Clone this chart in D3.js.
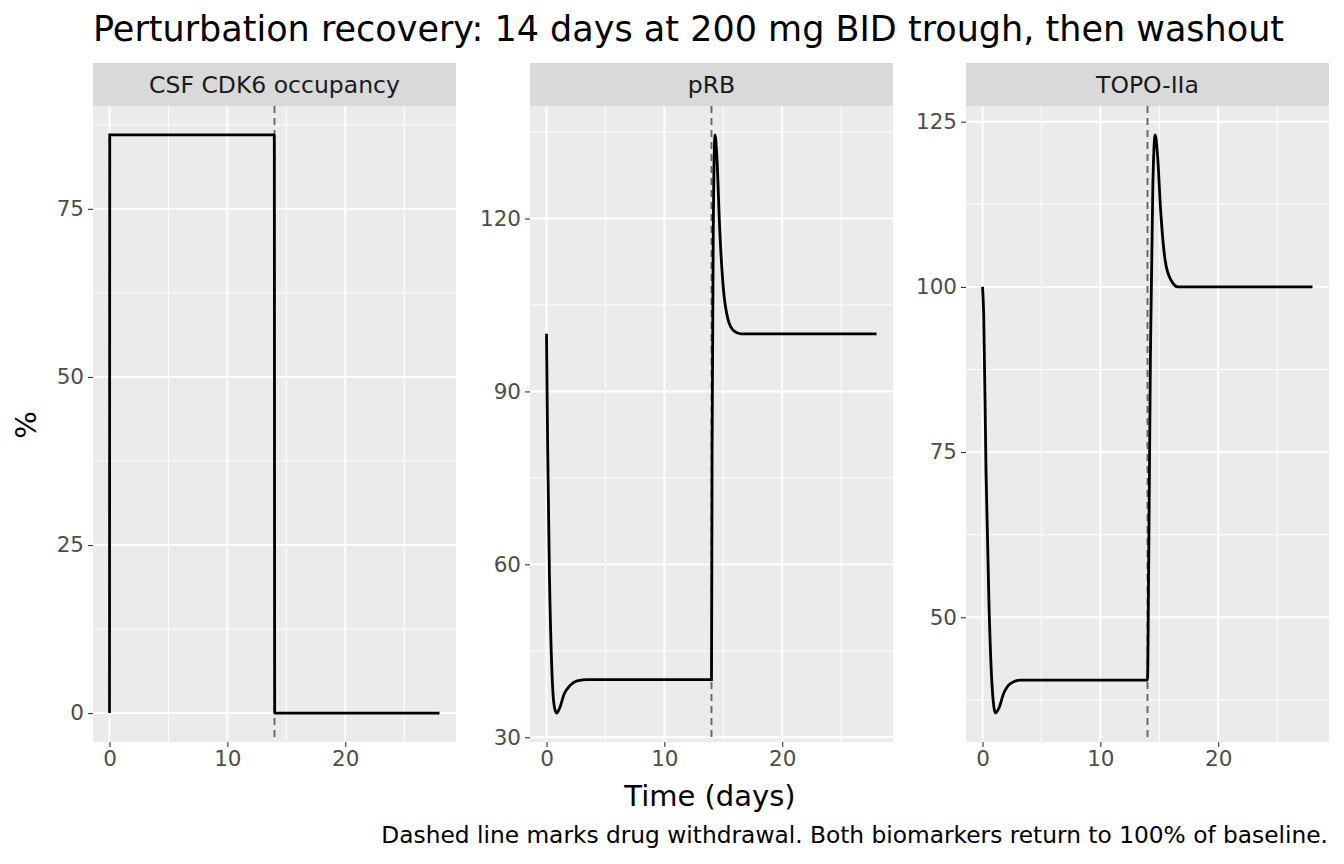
<!DOCTYPE html>
<html><head><meta charset="utf-8">
<script src="https://cdn.jsdelivr.net/npm/d3@7"></script>
<style>body{margin:0;background:#fff;font-family:"DejaVu Sans",sans-serif;}</style>
</head><body>
<script>
// panel names and y breaks
const panels = ["CSF CDK6 occupancy", "pRB", "TOPO-IIa"];
const yBreaks = [[0, 25, 50, 75], [30, 60, 90, 120], [50, 75, 100, 125]];
const xBreaks = [0, 10, 20];
const withdrawalDay = 14;

// series: [day, %]
const occupancy = [[0,0],[0.02,86],[13.98,86],[14.02,0],[28,0]];
const pRB = [[0,100],[0.1,80],[0.25,58],[0.45,42],[0.65,35.5],[0.85,34.2],[1.1,35],[1.5,37.5],[2,39],[2.6,39.8],[3.5,40],[14,40],[14.05,80],[14.15,118],[14.3,134.5],[14.45,131],[14.7,118],[15,108],[15.4,102.5],[15.9,100.5],[16.5,100],[28,100]];
const topo = [[0,100],[0.1,96],[0.3,72],[0.55,52],[0.8,40],[1.1,35.5],[1.4,36.3],[1.8,38.5],[2.4,40],[3.2,40.5],[14,40.5],[14.1,58],[14.25,90],[14.45,115],[14.65,123],[14.85,120],[15.1,112],[15.5,104],[16,101],[16.6,100],[28,100]];
const series = [occupancy, pRB, topo];

const svg = d3.select("body").append("svg").attr("width", 1344).attr("height", 864);

const panelX = [93, 530, 966], panelW = 363;
const stripTop = 63, stripH = 43, plotTop = 106, plotBot = 742;

svg.append("text").attr("x", 93).attr("y", 41).attr("font-size", 35).text("Perturbation recovery: 14 days at 200 mg BID trough, then washout");

panels.forEach((name, i) => {
  const data = series[i];
  const g = svg.append("g").attr("transform", `translate(${panelX[i]},0)`);
  const x = d3.scaleLinear().domain([-1.4, 29.4]).range([0, panelW]);
  const ext = d3.extent(data, d => d[1]);
  const pad = (ext[1] - ext[0]) * 0.05;
  const y = d3.scaleLinear().domain([ext[0] - pad, ext[1] + pad]).range([plotBot, plotTop]);

  g.append("rect").attr("y", stripTop).attr("width", panelW).attr("height", stripH).attr("fill", "#d9d9d9");
  g.append("text").attr("x", panelW / 2).attr("y", stripTop + stripH / 2 + 8).attr("text-anchor", "middle")
    .attr("font-size", 23.5).attr("fill", "#1a1a1a").text(name);
  g.append("rect").attr("y", plotTop).attr("width", panelW).attr("height", plotBot - plotTop).attr("fill", "#ebebeb");

  const yb = yBreaks[i], step = yb[1] - yb[0];
  const yMinor = yb.map(v => v - step / 2).concat([yb[yb.length - 1] + step / 2])
    .filter(v => v > y.domain()[0] && v < y.domain()[1]);
  g.selectAll(".ymin").data(yMinor).enter().append("line")
    .attr("x2", panelW).attr("y1", y).attr("y2", y).attr("stroke", "#fff").attr("stroke-width", 0.9);
  g.selectAll(".xmin").data([5, 15, 25]).enter().append("line")
    .attr("x1", x).attr("x2", x).attr("y1", plotTop).attr("y2", plotBot).attr("stroke", "#fff").attr("stroke-width", 0.9);
  g.selectAll(".ymaj").data(yb).enter().append("line")
    .attr("x2", panelW).attr("y1", y).attr("y2", y).attr("stroke", "#fff").attr("stroke-width", 1.9);
  g.selectAll(".xmaj").data(xBreaks).enter().append("line")
    .attr("x1", x).attr("x2", x).attr("y1", plotTop).attr("y2", plotBot).attr("stroke", "#fff").attr("stroke-width", 1.9);

  // axes
  const ya = g.append("g").call(d3.axisLeft(y).tickValues(yb).tickSize(5).tickPadding(4));
  const xa = g.append("g").attr("transform", `translate(0,${plotBot})`).call(d3.axisBottom(x).tickValues(xBreaks).tickSize(5).tickPadding(4));
  [ya, xa].forEach(a => {
    a.select(".domain").remove();
    a.selectAll(".tick line").attr("stroke", "#333").attr("stroke-width", 1.1);
    a.selectAll("text").attr("font-size", 21.5).attr("fill", "#4d4d4d").attr("font-family", "DejaVu Sans");
  });

  g.append("line").attr("x1", x(withdrawalDay)).attr("x2", x(withdrawalDay)).attr("y1", plotTop).attr("y2", plotBot)
    .attr("stroke", "#666").attr("stroke-width", 1.9).attr("stroke-dasharray", "7,5");

  const line = d3.line().x(d => x(d[0])).y(d => y(d[1])).curve(d3.curveMonotoneX);
  g.append("path").datum(data).attr("d", line).attr("fill", "none").attr("stroke", "#000").attr("stroke-width", 2.8);
});

svg.append("text").attr("x", 710).attr("y", 806).attr("text-anchor", "middle").attr("font-size", 29).text("Time (days)");
svg.append("text").attr("transform", "translate(36,425) rotate(-90)").attr("text-anchor", "middle").attr("font-size", 29).text("%");
svg.append("text").attr("x", 1328).attr("y", 843).attr("text-anchor", "end").attr("font-size", 23.3).text("Dashed line marks drug withdrawal. Both biomarkers return to 100% of baseline.");
</script>
</body></html>
